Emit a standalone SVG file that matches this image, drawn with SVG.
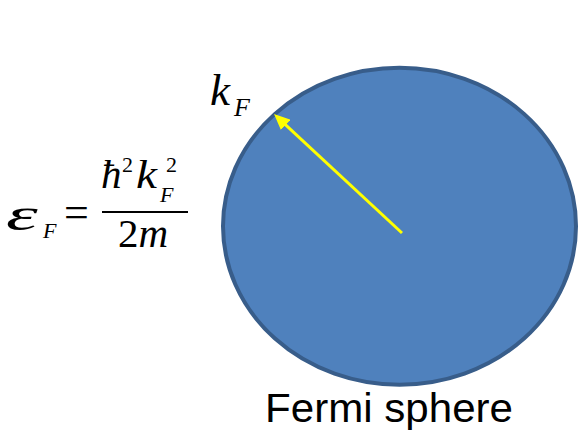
<svg xmlns="http://www.w3.org/2000/svg" width="587" height="440" viewBox="0 0 587 440">
<defs>
<style>
.m{font-family:"Liberation Serif","Times New Roman",serif;fill:#000}
.i{font-style:italic}
.lbl{font-family:"Liberation Sans",Arial,sans-serif;fill:#000}
</style>
<marker id="ah" markerUnits="userSpaceOnUse" markerWidth="16" markerHeight="14" refX="16" refY="7" orient="auto">
<path d="M0,0 L16,7 L0,14 z" fill="#FFFF00"/>
</marker>
</defs>
<rect width="587" height="440" fill="#fff"/>
<g id="sphere">
<ellipse cx="399.5" cy="226.2" rx="176.5" ry="158.5" fill="#4F81BD" stroke="#385D8A" stroke-width="4"/>
</g>
<g id="connectors">
<line x1="402" y1="233" x2="274" y2="114" stroke="#FFFF00" stroke-width="3" marker-end="url(#ah)" stroke-dasharray="160 100"/>
</g>
<g id="kF-label">
<text class="m i" x="210" y="105" font-size="45">k</text>
<text class="m i" x="234" y="116" font-size="26">F</text>
</g>
<g id="formula">
<text class="m i" x="0" y="230" font-size="46" transform="translate(6 0) scale(1.75 1)">ε</text>
<text class="m i" x="43" y="238" font-size="22">F</text>
<text class="m" x="64" y="227" font-size="44">=</text>
<rect x="102" y="211" width="86" height="2" fill="#000"/>
<text class="m i" x="101" y="188" font-size="41">ħ</text>
<text class="m" x="122" y="172" font-size="22">2</text>
<text class="m i" x="0" y="0" font-size="41" transform="translate(136 188) scale(1.15 1)">k</text>
<text class="m" x="166" y="172" font-size="22">2</text>
<text class="m i" x="160" y="202" font-size="22">F</text>
<text class="m" x="118" y="247" font-size="41">2<tspan class="i">m</tspan></text>
</g>
<g id="caption">
<text class="lbl" x="265" y="422" font-size="41" textLength="248" lengthAdjust="spacingAndGlyphs">Fermi sphere</text>
</g>
</svg>
